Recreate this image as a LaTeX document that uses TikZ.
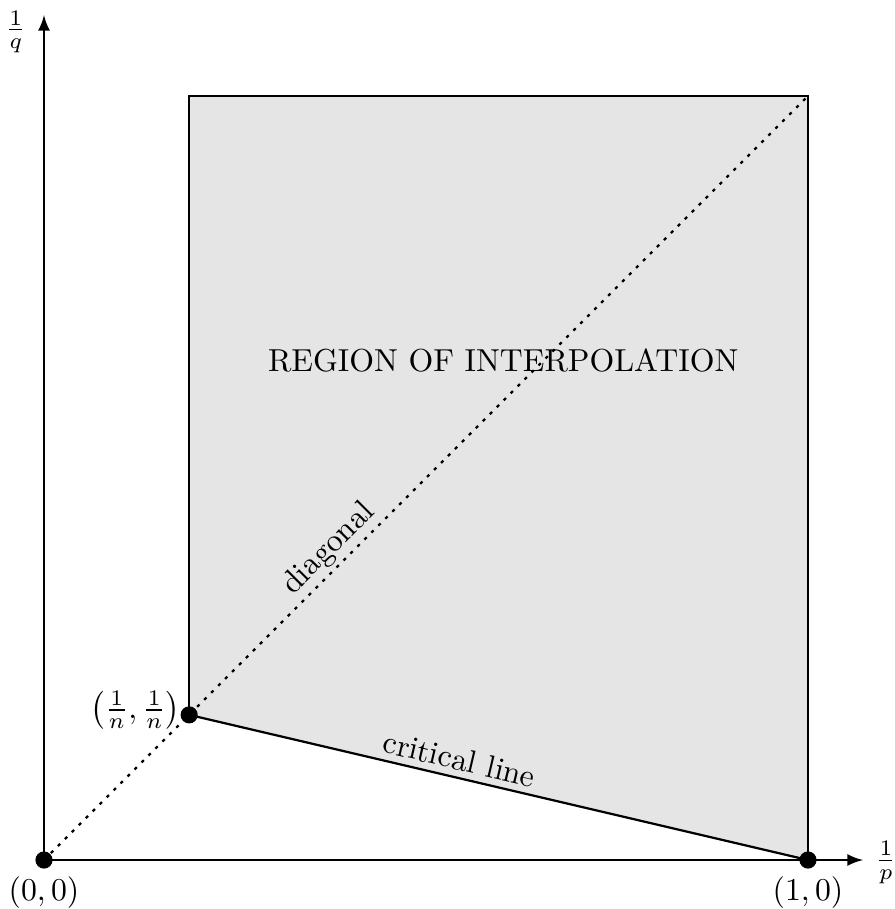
\documentclass[tikz,border=0pt]{standalone}
\usepackage{amsmath,amssymb,amsfonts}
\usetikzlibrary{arrows,positioning}

\begin{document}
\begin{tikzpicture}[x=8.45cm, y=8.45cm, >=latex, line width=0.7pt]
    \useasboundingbox (-0.0576,-0.0641) rectangle (1.1126,1.1257);
    \tikzset{pt/.style={circle, fill=black, inner sep=0pt, minimum size=5.4pt}}

    \coordinate (origin) at (0,0);
    \coordinate (onezero) at (1,0);
    \coordinate (crit) at (0.19,0.19);
    \coordinate (topleft) at (0.19,1);
    \coordinate (topright) at (1,1);
    \coordinate (xtip) at (1.072,0);
    \coordinate (ytip) at (0,1.106);

    % region
    \fill[black!10] (crit) -- (topleft) -- (topright) -- (onezero) -- cycle;
    \draw (onezero) -- (topright) -- (topleft) -- (crit);
    \draw (crit) -- (onezero) node (critlabel) [pos=0.43, sloped, above, inner sep=2pt] {critical line};
    \draw[dash pattern=on 1pt off 2.1pt] (origin) -- (topright) node (diaglabel) [pos=0.39, sloped, above, inner sep=1pt] {diagonal};

    % axes
    \draw[->] (origin) -- (xtip);
    \draw[->] (origin) -- (ytip);
    \node (plabel) [inner sep=0pt] at (1.102,-0.003) {$\frac{1}{p}$};
    \node (qlabel) [inner sep=0pt] at (-0.037,1.084) {$\frac{1}{q}$};

    \node (region) at (0.601,0.654) {REGION OF INTERPOLATION};

    % points
    \node (p00) [pt] at (origin) {};
    \node (p10) [pt] at (onezero) {};
    \node (pn) [pt] at (crit) {};
    \node [below=-1.5pt of p00] {$(0,0)$};
    \node [below=-1.5pt of p10] {$(1,0)$};
    \node [left=-4pt of pn, yshift=1.5pt] {$\left(\frac{1}{n},\frac{1}{n}\right)$};
\end{tikzpicture}
\end{document}
